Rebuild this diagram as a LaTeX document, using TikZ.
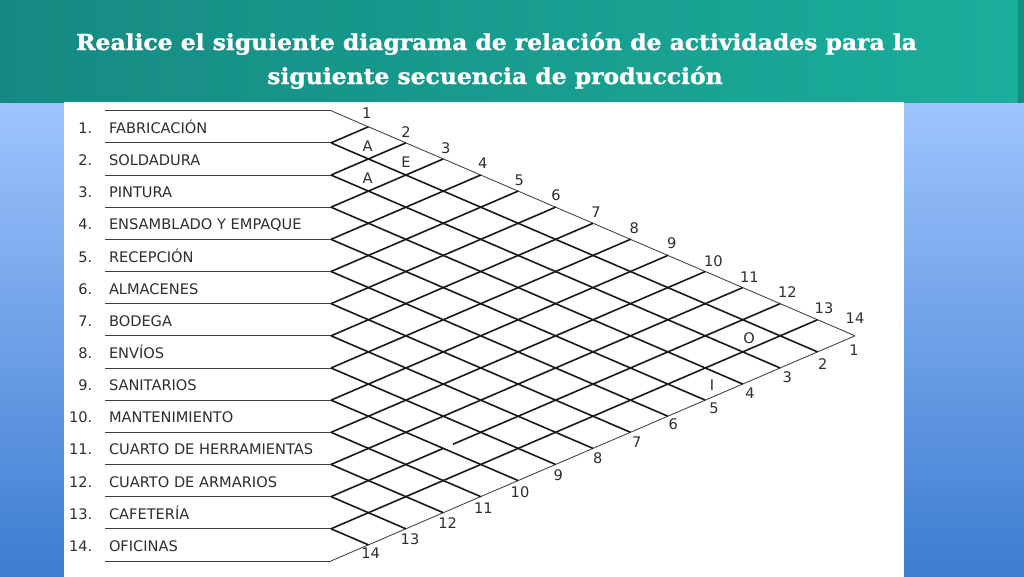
\documentclass[tikz,border=0pt]{standalone}
\usepackage{fontspec}
\setmainfont{DejaVu Sans}
\newfontfamily\titlefont{DejaVu Serif Bold}[FakeBold=1.2]
\usetikzlibrary{calc}
\definecolor{tealL}{HTML}{168A82}
\definecolor{tealR}{HTML}{1AAE9B}
\definecolor{tealD}{HTML}{138F80}
\definecolor{blueT}{HTML}{9EC4FD}
\definecolor{blueB}{HTML}{3D7CD0}
\definecolor{ink}{HTML}{2E2E2E}
\newcommand{\ttlscale}[1]{\scalebox{1.065}[1]{#1}}
\tikzset{
  titletext/.style={text=white, inner sep=0pt, font=\titlefont\fontsize{22}{25}\selectfont},
  lbl/.style={text=ink, inner sep=0pt, font=\fontsize{14.6}{16}\selectfont},
  thinline/.style={draw=black!75, line width=0.85pt},
  gridline/.style={draw=black!90, line width=1.6pt},
}
\begin{document}
\begin{tikzpicture}[x=1pt,y=-1pt]
\useasboundingbox (0,0) rectangle (1024,576);
% background
\shade[top color=blueT, bottom color=blueB] (0,102) rectangle (1024,577);
\shade[left color=tealL, right color=tealR] (0,0) rectangle (1018,102.5);
\fill[tealD] (1018,0) rectangle (1024,102.5);
\fill[white] (64,101.5) rectangle (904,578);
% title
\node[titletext, anchor=base] (t1) at (496.5,50) {\ttlscale{Realice el siguiente diagrama de relación de actividades para la}};
\node[titletext, anchor=base] (t2) at (495,84) {\ttlscale{siguiente secuencia de producción}};
% grid coordinates
\foreach \k in {0,...,14}{
  \pgfmathsetmacro{\yk}{110.7+32.16*\k}
  \coordinate (L\k) at (105,\yk);
  \coordinate (P\k) at (331,\yk);
  \pgfmathsetmacro{\tx}{331+37.43*\k}
  \pgfmathsetmacro{\ty}{110.7+16.08*\k}
  \coordinate (T\k) at (\tx,\ty);
  \pgfmathsetmacro{\bx}{331+37.43*(14-\k)}
  \pgfmathsetmacro{\by}{\yk+16.08*(14-\k)}
  \coordinate (B\k) at (\bx,\by);
}
\coordinate (apex) at (855,335.8);
% horizontal lines
\foreach \k in {0,...,14}{ \draw[thinline] (L\k) -- (P\k); }
% outer edges
\draw[thinline] (P0) -- (apex);
\draw[thinline] (P14) -- (apex);
% inner lines
\foreach \k in {1,...,13}{ \draw[gridline] (P\k) -- (B\k); }
\foreach \k in {1,...,11,13}{ \draw[gridline] (P\k) -- (T\k); }
\coordinate (g1) at ($(P12)!0.2493!(T12)$);
\coordinate (g2) at ($(P12)!0.2716!(T12)$);
\draw[gridline] (P12) -- (g1);
\draw[gridline] (g2) -- (T12);
% row labels
\foreach \i/\t in {1/FABRICACIÓN,2/SOLDADURA,3/PINTURA,4/ENSAMBLADO Y EMPAQUE,5/RECEPCIÓN,6/ALMACENES,7/BODEGA,8/ENVÍOS,9/SANITARIOS,10/MANTENIMIENTO,11/CUARTO DE HERRAMIENTAS,12/CUARTO DE ARMARIOS,13/CAFETERÍA,14/OFICINAS}{
  \pgfmathsetmacro{\yb}{110.7+32.16*\i-9.5}
  \node[lbl, anchor=base west] (name\i) at (108.8,\yb) {\t};
  \node[lbl, anchor=base east] (num\i) at (92.5,\yb) {\i.};
}
% top column numbers
\foreach \n/\x/\y in {1/366.7/113.3,2/406/131.7,3/445.7/147.7,4/482.7/163.3,5/519.3/180,6/556/195,7/596/211.7,8/634.3/228.3,9/671.7/242.7,10/713.3/261,11/749.3/276.7,12/787.3/291.7,13/824/308.3,14/855/318.3}{
  \node[lbl] (top\n) at (\x,\y) {\n};
}
% bottom column numbers
\foreach \n/\x/\y in {1/854/350,2/822.7/364,3/787.3/376.7,4/750/392.7,5/714/408,6/673.3/424.3,7/636.7/441.7,8/597.7/458.3,9/558.3/475,10/520/491.7,11/483.3/508.3,12/447.7/523.3,13/410/539.3,14/370.7/553.3}{
  \node[lbl] (bot\n) at (\x,\y) {\n};
}
% relationship letters
\node[lbl] (r12) at (367.7,146) {A};
\node[lbl] (r13) at (406,161.7) {E};
\node[lbl] (r23) at (367.7,178.3) {A};
\node[lbl] (r213) at (749,338) {O};
\node[lbl] (r414) at (712,385) {I};
\end{tikzpicture}
\end{document}
